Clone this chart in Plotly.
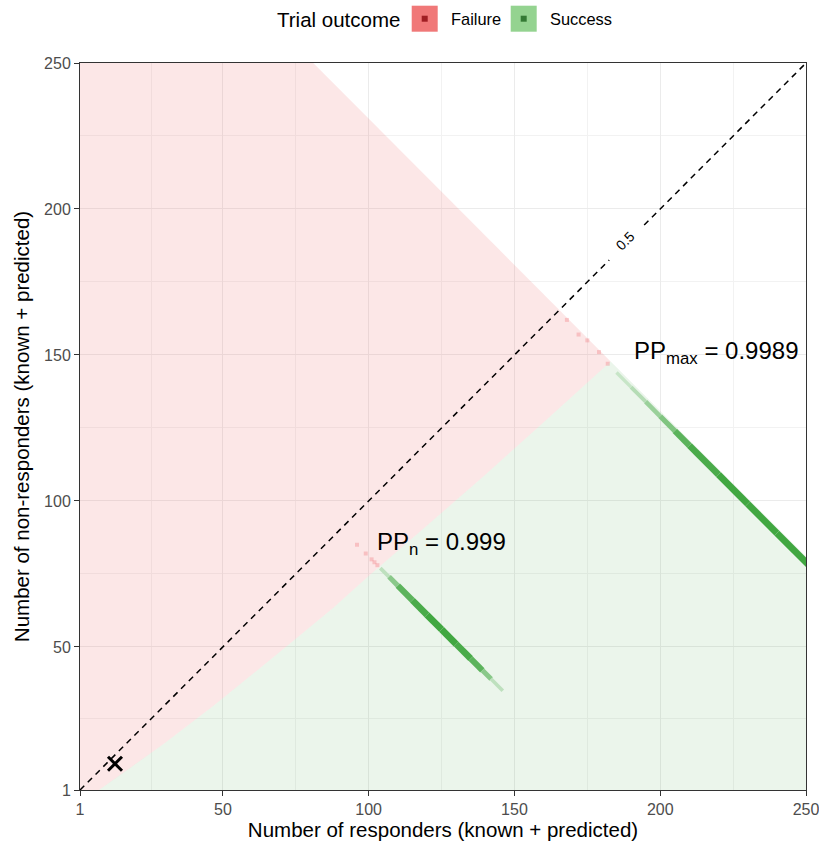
import plotly.graph_objects as go

# ---------------- data ----------------
x_ticks = [1, 50, 100, 150, 200, 250]
y_ticks = [1, 50, 100, 150, 200, 250]
minor_ticks = [25.5, 75, 125, 175, 225]

# success / failure decision boundary (responders, non-responders)
boundary_x = [7.5, 16, 30, 47, 60, 72, 88, 100, 122, 140, 159, 183]
boundary_y = [1, 7, 17, 30, 40.4, 50.3, 63.5, 74.3, 93.3, 109, 126, 147.8]
# outer limit of attainable final outcomes
limit_x = [81, 183, 250]
limit_y = [250, 147.8, 81]
# axis extent
axis_min, axis_max = 1, 250

# predicted final-outcome bands (centre line, relative intensity per segment)
band_n_x = [104, 107, 110, 115, 120, 125, 130, 135, 139, 142, 146]
band_n_y = [77, 74, 71, 66, 61, 56, 51, 46, 42, 39, 35]
band_n_w = [0.25, 0.55, 0.8, 0.9, 0.95, 0.95, 0.9, 0.8, 0.55, 0.25]
band_max_x = [185, 190, 195, 200, 205, 210, 220, 230, 240, 251]
band_max_y = [144, 139, 134, 129, 124, 119, 109, 99, 89, 78]
band_max_w = [0.2, 0.3, 0.45, 0.6, 0.8, 0.9, 0.95, 0.95, 0.95]

# predicted outcomes that fall in the failure region (faint)
fail_pts_x = [96, 99, 101, 102, 103, 168, 172, 175, 179, 182]
fail_pts_y = [85, 82, 80, 79, 78, 162, 157, 155, 151, 147]

# current observed state
current_x = [13]
current_y = [10]

# 0.5 response-rate contour (broken where labelled)
contour_x = [1, 182.5, None, 194.5, 250]
contour_y = [1, 182.5, None, 194.5, 250]
contour_label = "0.5"
contour_label_x, contour_label_y = 187.8, 189.2

pp_texts = ["PP<sub>n</sub> = 0.999", "PP<sub>max</sub> = 0.9989"]
pp_x = [102.2, 248]
pp_y = [85.5, 151]

legend_title = "Trial outcome"
legend_labels = ["Failure", "Success"]

# ---------------- styling ----------------
FONT = "Liberation Sans, Arial, Helvetica, sans-serif"
fail_fill = "rgba(240,110,115,0.17)"
succ_fill = "rgba(100,180,100,0.13)"
bg_green = (235, 245, 235)
dark_green = (56, 163, 56)

L, R, T, B = 80, 13, 63, 51
W, H = 819, 841
PW, PH = W - L - R, H - T - B


def px(xp):
    return (xp - L) / PW


def py(yp):
    return (H - B - yp) / PH


def blend(w):
    c = [round(bg_green[i] + w * (dark_green[i] - bg_green[i])) for i in range(3)]
    return "rgb(%d,%d,%d)" % tuple(c)


fig = go.Figure()

# failure region
fail_x = [axis_min] + boundary_x + [limit_x[0], axis_min]
fail_y = [axis_min] + boundary_y + [limit_y[0], axis_max]
fig.add_trace(go.Scatter(x=fail_x, y=fail_y, fill="toself", fillcolor=fail_fill,
                         mode="lines", line=dict(width=0), hoverinfo="skip",
                         showlegend=False))
# success region
succ_x = boundary_x + limit_x[2:] + [axis_max]
succ_y = boundary_y + limit_y[2:] + [axis_min]
fig.add_trace(go.Scatter(x=succ_x, y=succ_y, fill="toself", fillcolor=succ_fill,
                         mode="lines", line=dict(width=0), hoverinfo="skip",
                         showlegend=False))

# faint failure predictions
fig.add_trace(go.Scatter(x=fail_pts_x, y=fail_pts_y, mode="markers",
                         marker=dict(symbol="square", size=4,
                                     color="rgba(240,120,125,0.35)"),
                         hoverinfo="skip", showlegend=False))

# bands
for bx, by, bw in [(band_n_x, band_n_y, band_n_w), (band_max_x, band_max_y, band_max_w)]:
    for i, w in enumerate(bw):
        fig.add_trace(go.Scatter(x=bx[i:i + 2], y=by[i:i + 2], mode="lines",
                                 line=dict(color=blend(w), width=2.5 + 4.5 * w),
                                 hoverinfo="skip", showlegend=False))

# 0.5 contour
fig.add_trace(go.Scatter(x=contour_x, y=contour_y, mode="lines",
                         line=dict(color="black", width=1.5, dash="6px,5px"),
                         hoverinfo="skip", showlegend=False))

# current state
fig.add_trace(go.Scatter(x=current_x, y=current_y, mode="markers",
                         marker=dict(symbol="x-thin", size=14,
                                     line=dict(width=3, color="black")),
                         hoverinfo="skip", showlegend=False))

annotations = [
    dict(x=contour_label_x, y=contour_label_y, xref="x", yref="y", text=contour_label,
         showarrow=False, textangle=-45, font=dict(family=FONT, size=14, color="black")),
    dict(x=pp_x[0], y=pp_y[0], xref="x", yref="y", text=pp_texts[0], showarrow=False,
         xanchor="left", yanchor="middle", font=dict(family=FONT, size=24, color="black")),
    dict(x=pp_x[1], y=pp_y[1], xref="x", yref="y", text=pp_texts[1], showarrow=False,
         xanchor="right", yanchor="middle", font=dict(family=FONT, size=24, color="black")),
    # legend
    dict(x=px(275), y=py(19), xref="paper", yref="paper", text=legend_title,
         showarrow=False, xanchor="left", yanchor="middle",
         font=dict(family=FONT, size=20.5, color="black")),
    dict(x=px(449), y=py(19), xref="paper", yref="paper", text=legend_labels[0],
         showarrow=False, xanchor="left", yanchor="middle",
         font=dict(family=FONT, size=16.4, color="black")),
    dict(x=px(547.5), y=py(19), xref="paper", yref="paper", text=legend_labels[1],
         showarrow=False, xanchor="left", yanchor="middle",
         font=dict(family=FONT, size=16.4, color="black")),
]

shapes = []
for (x0, light, dark) in [(411.7, "rgb(240,120,120)", "rgb(160,30,35)"),
                          (510.7, "rgb(148,211,144)", "rgb(52,122,52)")]:
    shapes.append(dict(type="rect", xref="paper", yref="paper",
                       x0=px(x0), x1=px(x0 + 26), y0=py(31.7), y1=py(5.7),
                       fillcolor=light, line=dict(width=0)))
    shapes.append(dict(type="rect", xref="paper", yref="paper",
                       x0=px(x0 + 10), x1=px(x0 + 16), y0=py(21.7), y1=py(15.7),
                       fillcolor=dark, line=dict(width=0)))

axis_common = dict(
    range=[axis_min, axis_max], tickmode="array",
    showgrid=True, gridcolor="#EBEBEB", gridwidth=1.1,
    zeroline=False, showline=True, mirror=True, linecolor="#333333", linewidth=1,
    ticks="outside", ticklen=5, tickcolor="#333333", tickwidth=1,
    tickfont=dict(family=FONT, size=16, color="#4D4D4D"),
    ticklabeloverflow="allow",
    minor=dict(tickmode="array", tickvals=minor_ticks, showgrid=True,
               gridcolor="#F2F2F2", gridwidth=0.6, ticks=""),
    automargin=False, layer="above traces",
)

fig.update_layout(
    width=W, height=H,
    margin=dict(l=L, r=R, t=T, b=B),
    paper_bgcolor="white", plot_bgcolor="white",
    showlegend=False,
    xaxis=dict(**axis_common, tickvals=x_ticks, ticktext=[str(v) for v in x_ticks],
               title=dict(text="Number of responders (known + predicted)", standoff=5,
                          font=dict(family=FONT, size=20.5, color="black"))),
    yaxis=dict(**axis_common, tickvals=y_ticks, ticktext=[str(v) for v in y_ticks],
               title=dict(text="Number of non-responders (known + predicted)", standoff=8,
                          font=dict(family=FONT, size=20.5, color="black"))),
    annotations=annotations,
    shapes=shapes,
)

fig.write_html("out.html")
